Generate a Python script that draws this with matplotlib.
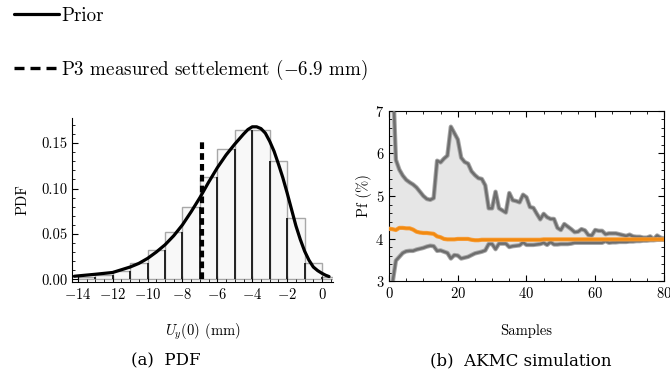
import matplotlib
matplotlib.use("Agg")
import matplotlib.pyplot as plt
from matplotlib.lines import Line2D
from matplotlib.ticker import MultipleLocator, FormatStrFormatter

plt.rcParams['font.family'] = 'serif'
plt.rcParams['font.serif'] = ['cmr10']
plt.rcParams['mathtext.fontset'] = 'cm'
plt.rcParams['axes.formatter.use_mathtext'] = True
plt.rcParams['axes.unicode_minus'] = True

# --- (a) histogram + prior pdf ---
bin_edges = [-14, -13, -12, -11, -10, -9, -8, -7, -6, -5, -4, -3, -2, -1, 0, 1]
bin_heights = [0.003, 0.005, 0.009, 0.018, 0.032, 0.052, 0.080, 0.113,
               0.144, 0.165, 0.164, 0.130, 0.067, 0.018, 0.003]

prior_x = [-14.2, -14.0, -13.0, -12.0, -11.0, -10.5, -10.0, -9.5, -9.0, -8.5,
           -8.0, -7.5, -7.0, -6.5, -6.0, -5.5, -5.0, -4.5, -4.25, -4.0,
           -3.75, -3.5, -3.25, -3.0, -2.75, -2.5, -2.25, -2.0, -1.75, -1.5,
           -1.25, -1.0, -0.75, -0.5, -0.25, 0.0, 0.2, 0.4]
prior_y = [0.0033, 0.0037, 0.0055, 0.0075, 0.0135, 0.0175, 0.023, 0.030, 0.038, 0.048,
           0.060, 0.0745, 0.090, 0.107, 0.123, 0.137, 0.149, 0.160, 0.165, 0.168,
           0.168, 0.166, 0.161, 0.152, 0.141, 0.127, 0.112, 0.095, 0.077, 0.059,
           0.044, 0.031, 0.021, 0.0135, 0.0095, 0.0065, 0.0045, 0.003]

measured = -6.9
measured_top = 0.152

# --- (b) AKMC convergence ---
samples = list(range(81))
pf_upper = [20.0, 8.0, 5.85, 5.62, 5.48, 5.38, 5.32, 5.27, 5.2, 5.1,
            5.0, 4.93, 4.91, 4.95, 5.83, 5.79, 5.88, 5.95, 6.63, 6.48,
            6.33, 5.9, 5.8, 5.76, 5.58, 5.49, 5.42, 5.4, 5.25, 4.71,
            4.71, 5.1, 4.71, 4.66, 4.61, 5.07, 4.9, 4.88, 4.85, 5.03,
            4.97, 4.74, 4.72, 4.58, 4.45, 4.58, 4.5, 4.46, 4.46, 4.25,
            4.2, 4.34, 4.28, 4.22, 4.15, 4.16, 4.22, 4.19, 4.08, 4.07,
            4.2, 4.18, 4.18, 4.1, 4.12, 4.12, 4.12, 4.1, 4.08, 4.06,
            4.09, 4.05, 4.04, 4.04, 4.02, 4.02, 4.05, 3.98, 4.07, 4.02,
            4.0]
pf_lower = [2.4, 2.95, 3.48, 3.57, 3.66, 3.7, 3.71, 3.71, 3.74, 3.76,
            3.78, 3.81, 3.83, 3.82, 3.71, 3.72, 3.69, 3.66, 3.53, 3.61,
            3.6, 3.53, 3.55, 3.57, 3.61, 3.65, 3.67, 3.69, 3.72, 3.87,
            3.87, 3.75, 3.88, 3.88, 3.88, 3.8, 3.82, 3.83, 3.84, 3.91,
            3.85, 3.85, 3.85, 3.86, 3.87, 3.9, 3.85, 3.92, 3.86, 3.86,
            3.87, 3.87, 3.87, 3.88, 3.9, 3.9, 3.9, 3.9, 3.9, 3.9,
            3.9, 3.9, 3.9, 3.94, 3.9, 3.91, 3.91, 3.92, 3.92, 3.92,
            3.93, 3.93, 3.94, 3.94, 3.95, 3.95, 3.96, 3.96, 3.97, 3.97,
            3.97]
pf_mean = [4.23, 4.22, 4.2, 4.25, 4.25, 4.24, 4.24, 4.21, 4.16, 4.14,
           4.13, 4.13, 4.12, 4.11, 4.05, 4.03, 3.99, 3.98, 3.98, 3.98,
           3.99, 3.99, 3.99, 3.99, 3.97, 3.96, 3.96, 3.97, 3.97, 3.97,
           3.97, 3.97, 3.97, 3.97, 3.97, 3.97, 3.97, 3.97, 3.97, 3.97,
           3.97, 3.97, 3.97, 3.97, 3.97, 3.98, 3.98, 3.98, 3.98, 3.98,
           3.98, 3.98, 3.98, 3.98, 3.98, 3.98, 3.98, 3.98, 3.98, 3.98,
           3.98, 3.98, 3.98, 3.98, 3.98, 3.98, 3.98, 3.98, 3.98, 3.98,
           3.98, 3.98, 3.98, 3.98, 3.98, 3.98, 3.98, 3.98, 3.98, 3.98,
           3.98]

fig = plt.figure(figsize=(6.7, 3.77), dpi=100)

# left panel
ax1 = fig.add_axes([0.1075, 0.252, 0.3896, 0.435])
widths = [b - a for a, b in zip(bin_edges[:-1], bin_edges[1:])]
ax1.bar(bin_edges[:-1], bin_heights, width=widths, align='edge',
        color='#f8f8f8', edgecolor='#a8a8a8', linewidth=1.0, zorder=1)
# dark separators between neighbouring bins
for i in range(1, len(bin_heights)):
    ax1.vlines(bin_edges[i], 0, min(bin_heights[i - 1], bin_heights[i]),
               color='#222222', linewidth=1.4, zorder=2)
prior_line, = ax1.plot(prior_x, prior_y, color='black', lw=2.3, zorder=4,
                       solid_capstyle='round')
ax1.plot([measured, measured], [0, measured_top], color='black',
         lw=3, ls=(0, (1.6, 1.0)), zorder=3)
ax1.set_xlim(-14.33, 0.63)
ax1.set_ylim(-0.003, 0.1777)
ax1.spines['top'].set_visible(False)
ax1.spines['right'].set_visible(False)
ax1.xaxis.set_major_locator(MultipleLocator(2))
ax1.xaxis.set_minor_locator(MultipleLocator(0.5))
ax1.yaxis.set_major_locator(MultipleLocator(0.05))
ax1.yaxis.set_minor_locator(MultipleLocator(0.01))
ax1.yaxis.set_major_formatter(FormatStrFormatter('%.2f'))
ax1.tick_params(which='both', direction='in', labelsize=10.5)
ax1.tick_params(which='major', length=4)
ax1.tick_params(which='minor', length=2.5)
ax1.set_xlabel('$U_y(0)$ (mm)', fontsize=10.5, labelpad=14)
ax1.set_ylabel('PDF', fontsize=10.5, labelpad=8)

# right panel
ax2 = fig.add_axes([0.5806, 0.2546, 0.4104, 0.451])
ax2.fill_between(samples, pf_lower, pf_upper, color='#e6e6e6', lw=0, zorder=1)
for series in (pf_upper, pf_lower):
    ax2.plot(samples, series, color='#a8a8a8', lw=3.2, zorder=2)
    ax2.plot(samples, series, color='#6e6e6e', lw=1.8, zorder=3)
ax2.plot(samples, pf_mean, color='#f7a040', lw=3.0, zorder=4)
ax2.plot(samples, pf_mean, color='#f28a10', lw=1.8, zorder=5)
ax2.set_xlim(0, 80)
ax2.set_ylim(3, 7)
ax2.xaxis.set_major_locator(MultipleLocator(20))
ax2.xaxis.set_minor_locator(MultipleLocator(5))
ax2.yaxis.set_major_locator(MultipleLocator(1))
ax2.yaxis.set_minor_locator(MultipleLocator(0.2))
ax2.tick_params(which='both', direction='in', top=True, right=True, labelsize=10.5)
ax2.tick_params(which='major', length=4)
ax2.tick_params(which='minor', length=2.5)
ax2.set_xlabel('Samples', fontsize=10.5, labelpad=17)
ax2.set_ylabel('Pf (%)', fontsize=10.5, labelpad=2)

meas_handle = Line2D([], [], color='black', lw=2.4, ls=(0, (3.0, 1.8)))
fig.legend(handles=[prior_line, meas_handle],
           labels=['Prior', 'P3 measured settelement ($-$6.9 mm)'],
           loc='upper left', bbox_to_anchor=(0.015, 0.992), frameon=False,
           fontsize=13.7, handlelength=2.35, handletextpad=0.12,
           labelspacing=1.72, borderpad=0.2, borderaxespad=0)

fig.text(0.247, 0.042, '(a)  PDF', ha='center', va='center',
         fontsize=12, family='DejaVu Serif')
fig.text(0.777, 0.042, '(b)  AKMC simulation', ha='center', va='center',
         fontsize=12, family='DejaVu Serif')

fig.savefig('out.png', dpi=100)
